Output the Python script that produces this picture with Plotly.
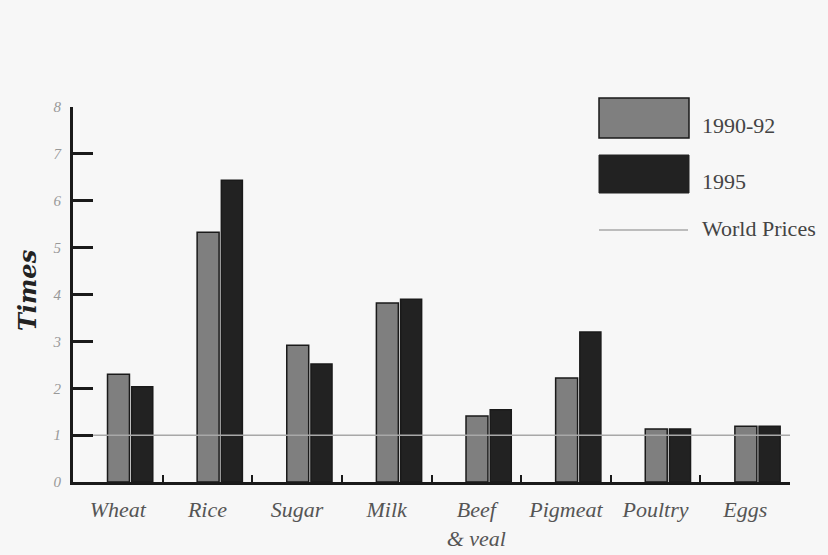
import plotly.graph_objects as go

categories = ["Wheat", "Rice", "Sugar", "Milk", "Beef<br>& veal", "Pigmeat", "Poultry", "Eggs"]
values_1990_92 = [2.30, 5.33, 2.92, 3.82, 1.41, 2.22, 1.13, 1.19]
values_1995 = [2.03, 6.44, 2.52, 3.90, 1.54, 3.20, 1.13, 1.19]
world_price = [1, 1]
series_names = ["1990-92", "1995", "World Prices"]
y_ticks = [0, 1, 2, 3, 4, 5, 6, 7, 8]

BG = "#f7f7f7"
FONT = "Liberation Serif"

L, R, T, B = 73, 38, 107, 73

fig = go.Figure()
fig.add_trace(go.Bar(x=categories, y=values_1990_92, name=series_names[0],
                     marker=dict(color="#7f7f7f", line=dict(color="#1a1a1a", width=1.5)),
                     width=0.245, offset=-0.115, showlegend=False))
fig.add_trace(go.Bar(x=categories, y=values_1995, name=series_names[1],
                     marker=dict(color="#222222", line=dict(color="#1a1a1a", width=1.5)),
                     width=0.235, offset=0.155, showlegend=False))
fig.add_trace(go.Scatter(x=[-0.5, 7.5], y=world_price, mode="lines", name=series_names[2],
                         line=dict(color="#a8a8a8", width=1.5), showlegend=False,
                         hoverinfo="skip", xaxis="x2"))

fig.update_layout(
    width=828, height=555,
    paper_bgcolor=BG, plot_bgcolor=BG,
    margin=dict(l=L, r=R, t=T, b=B, autoexpand=False),
    barmode="overlay",
    font=dict(family=FONT, color="#666666"),
    xaxis=dict(
        type="category", tickson="boundaries", ticks="inside", ticklen=7, tickwidth=2,
        tickcolor="#1a1a1a", showline=True, linecolor="#1a1a1a", linewidth=3,
        showgrid=False, range=[-0.5, 7.5], ticklabelstandoff=6, automargin=False,
        tickfont=dict(family=FONT, size=22, color="#555555", style="italic"),
    ),
    xaxis2=dict(overlaying="x", range=[-0.5, 7.5], visible=False),
    yaxis=dict(
        range=[0, 8], tickvals=y_ticks, ticks="inside", ticklen=20, tickwidth=3,
        tickcolor="#1a1a1a", showline=True, linecolor="#1a1a1a", linewidth=3,
        showgrid=False, zeroline=False, ticklabelstandoff=6, automargin=False,
        tickfont=dict(family=FONT, size=15, color="#999999", style="italic"),
    ),
)

def px_x(p):
    return (p - L) / (828 - L - R)

def px_y(p):
    return (555 - B - p) / (555 - B - T)

# y-axis title
fig.add_annotation(text="<b><i>Times</i></b>", xref="paper", yref="paper",
                   x=px_x(27), y=px_y(290), xanchor="center", yanchor="middle",
                   textangle=-90, showarrow=False,
                   font=dict(family="DejaVu Serif", size=24, color="#222222"))

# legend drawn as decoration in paper coordinates
fig.add_shape(type="rect", xref="paper", yref="paper",
              x0=px_x(599), x1=px_x(689), y0=px_y(138), y1=px_y(98),
              fillcolor="#7f7f7f", line=dict(color="#1a1a1a", width=1.5))
fig.add_shape(type="rect", xref="paper", yref="paper",
              x0=px_x(599), x1=px_x(689), y0=px_y(193), y1=px_y(155),
              fillcolor="#222222", line=dict(color="#222222", width=1))
fig.add_shape(type="line", xref="paper", yref="paper",
              x0=px_x(599), x1=px_x(688), y0=px_y(230), y1=px_y(230),
              line=dict(color="#a8a8a8", width=1.5))
for name, yy in zip(series_names, [125, 181, 228]):
    fig.add_annotation(text=name, xref="paper", yref="paper", x=px_x(700), y=px_y(yy),
                       xanchor="left", yanchor="middle", showarrow=False,
                       font=dict(family=FONT, size=22, color="#444444"))

fig.write_html("out.html", config={"displayModeBar": False},
               post_script="document.body.style.margin='0';")
